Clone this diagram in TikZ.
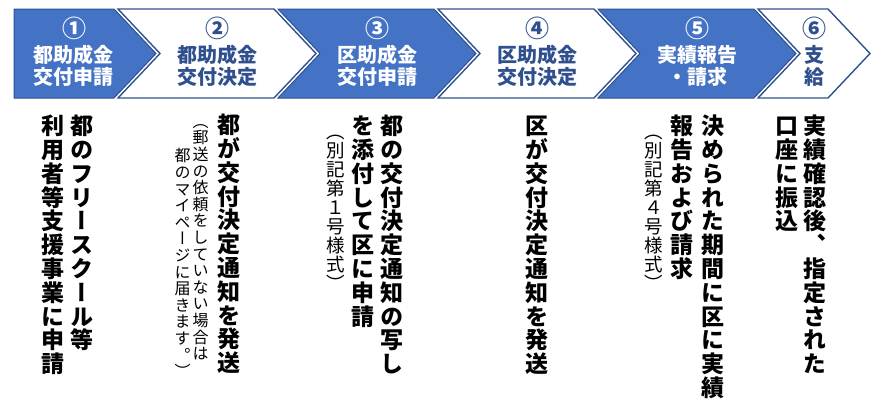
\documentclass[tikz,border=0pt]{standalone}
\usepackage{fontspec}
\newfontfamily\jp{Noto Sans CJK JP}
\newfontfamily\jpv{Noto Sans CJK JP}[RawFeature=+vert]
\definecolor{fillblue}{HTML}{4472C4}
\definecolor{lineblue}{HTML}{2F528F}
\definecolor{textblue}{HTML}{2F4F8F}
\newlength\tatep
\makeatletter
\def\tatebox#1{\vbox{\offinterlineskip\tate@loop#1\relax}}
\def\tate@loop#1{\ifx\relax#1\else\hbox to 1em{\hss\vbox to \tatep{\vss\hbox{\vrule height .88em depth .12em width 0pt\relax #1}\vss}\hss}\expandafter\tate@loop\fi}
\makeatother
\newcommand\tateB[1]{\jpv\bfseries\fontsize{23}{24}\selectfont\setlength\tatep{23.8pt}\tatebox{#1}}
\newcommand\tateS[1]{\jpv\fontsize{16}{17}\selectfont\setlength\tatep{16.6pt}\tatebox{#1}}
\newcommand\tateM[1]{\jpv\fontsize{18.5}{19}\selectfont\setlength\tatep{19pt}\tatebox{#1}}
\tikzset{
  col/.style={anchor=north, inner sep=0pt, outer sep=0pt},
  bluestep/.style={fill=fillblue, draw=lineblue, line width=1pt, line join=miter},
  whitestep/.style={fill=white, draw=lineblue, line width=1.4pt, line join=miter},
  numw/.style={inner sep=0pt, text=white, font=\jp\bfseries\fontsize{24}{24}\selectfont},
  numb/.style={inner sep=0pt, text=textblue, font=\jp\bfseries\fontsize{24}{24}\selectfont},
  labw/.style={inner sep=0pt, align=center, text=white, font=\jp\bfseries\fontsize{20}{22}\selectfont},
  labb/.style={inner sep=0pt, align=center, text=textblue, font=\jp\bfseries\fontsize{20}{22}\selectfont},
}
\begin{document}
\begin{tikzpicture}[x=1pt,y=-1pt]
\useasboundingbox (0,0) rectangle (880,407);
% chevrons
\draw[bluestep] (14,9) -- (114,9) -- (156,53.5) -- (114,98) -- (14,98) -- cycle;
\draw[whitestep] (118,9) -- (274,9) -- (316,53.5) -- (274,98) -- (118,98) -- (160,53.5) -- cycle;
\draw[bluestep] (278,9) -- (434,9) -- (476,53.5) -- (434,98) -- (278,98) -- (320,53.5) -- cycle;
\draw[whitestep] (438,9) -- (594,9) -- (636,53.5) -- (594,98) -- (438,98) -- (480,53.5) -- cycle;
\draw[bluestep] (598,9) -- (754,9) -- (796,53.5) -- (754,98) -- (598,98) -- (640,53.5) -- cycle;
\draw[whitestep] (758,9) -- (828,9) -- (870,53.5) -- (828,98) -- (758,98) -- (800,53.5) -- cycle;
% chevron texts
\node[numw] (n1) at (74,28) {①};
\node[labw] (l1) at (73,66) {都助成金\\交付申請};
\node[numb] (n2) at (217,28) {②};
\node[labb] (l2) at (217,66) {都助成金\\交付決定};
\node[numw] (n3) at (377,28) {③};
\node[labw] (l3) at (377,66) {区助成金\\交付申請};
\node[numb] (n4) at (537,28) {④};
\node[labb] (l4) at (537,66) {区助成金\\交付決定};
\node[numw] (n5) at (697,28) {⑤};
\node[labw] (l5) at (697,66) {実績報告\\・請求};
\node[numb] (n6) at (814,28) {⑥};
\node[labb] (l6) at (814,66) {支\\給};
% vertical descriptions
\node[col] (t1a) at (82,114) {\tateB{都のフリースクール等}};
\node[col] (t1b) at (53,114) {\tateB{利用者等支援事業に申請}};
\node[col] (t2a) at (229,113) {\tateB{都が交付決定通知を発送}};
\node[col] (t2b) at (200.5,113) {\tateS{（郵送の依頼をしていない場合は}};
\node[col] (t2c) at (182.5,147.5) {\tateS{都のマイページに届きます。）}};
\node[col] (t3a) at (392,114) {\tateB{都の交付決定通知の写し}};
\node[col] (t3b) at (363,114) {\tateB{を添付して区に申請}};
\node[col] (t3c) at (336,121.5) {\tateM{（別記第１号様式）}};
\node[col] (t4a) at (537,114) {\tateB{区が交付決定通知を発送}};
\node[col] (t5a) at (713,114) {\tateB{決められた期間に区に実績}};
\node[col] (t5b) at (682,114) {\tateB{報告および請求}};
\node[col] (t5c) at (654,121.5) {\tateM{（別記第４号様式）}};
\node[col] (t6a) at (815,114) {\tateB{実績確認後、指定された}};
\node[col] (t6b) at (787,114) {\tateB{口座に振込}};
\end{tikzpicture}
\end{document}
